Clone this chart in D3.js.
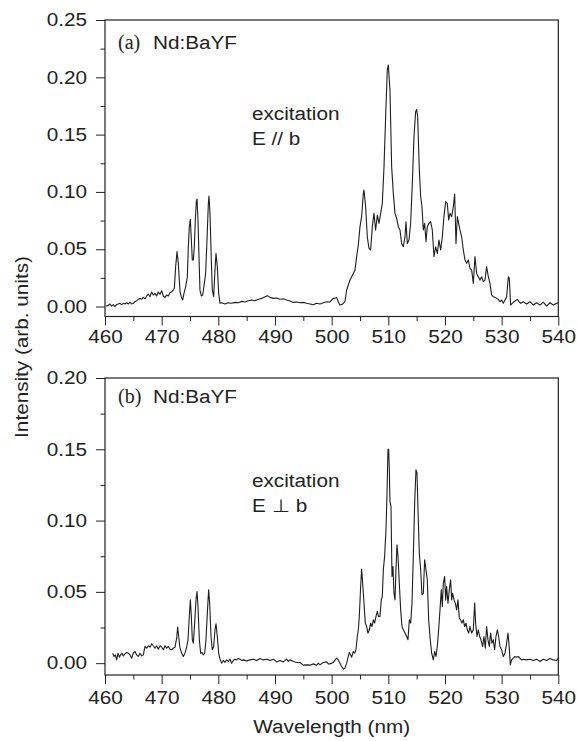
<!DOCTYPE html>
<html><head><meta charset="utf-8">
<script src="https://cdn.jsdelivr.net/npm/d3@7"></script>
<style>
html,body{margin:0;padding:0;background:#fff;}
svg{display:block;}
</style></head>
<body>
<script>
// ---------- data ----------
const topWl = [460.18,460.59,460.88,461.18,461.47,461.76,462.06,462.35,462.65,462.94,463.24,463.53,463.82,464.12,464.41,464.71,465.0,465.29,465.59,465.88,466.18,466.47,466.76,467.06,467.35,467.65,467.94,468.24,468.53,468.82,469.12,469.41,469.71,470.0,470.29,470.59,470.88,471.18,471.47,471.76,472.06,472.24,472.47,472.71,472.94,473.24,473.47,473.71,473.94,474.24,474.53,474.71,474.88,475.06,475.24,475.41,475.59,475.76,475.94,476.12,476.24,476.41,476.59,476.76,477.0,477.24,477.53,477.76,478.0,478.24,478.35,478.53,478.76,478.94,479.18,479.41,479.59,479.82,480.06,480.29,480.59,481.18,481.76,482.35,482.94,483.53,484.12,484.71,485.29,485.88,486.47,487.06,487.65,488.24,488.65,489.12,489.71,490.29,490.88,491.47,492.06,492.65,493.24,493.82,494.41,495.0,495.59,496.18,496.76,497.35,497.94,498.53,499.12,499.71,500.29,500.59,500.88,501.18,501.47,501.94,502.35,502.65,502.94,503.24,503.53,503.82,504.12,504.41,504.71,505.0,505.29,505.59,505.71,506.0,506.29,506.59,506.88,507.18,507.47,507.76,508.06,508.35,508.65,508.94,509.24,509.53,509.82,510.0,510.29,510.59,510.88,511.18,511.47,511.76,512.06,512.35,512.65,512.94,513.12,513.35,513.65,513.94,514.24,514.53,514.82,515.0,515.18,515.47,515.71,515.94,516.18,516.41,516.65,516.88,517.18,517.47,517.76,518.06,518.35,518.65,518.94,519.24,519.53,519.82,520.12,520.41,520.65,520.88,521.18,521.47,521.71,521.94,522.18,522.41,522.65,522.94,523.24,523.53,523.82,524.12,524.41,524.71,525.0,525.29,525.59,525.88,526.18,526.47,526.76,527.06,527.35,527.65,527.94,528.24,528.53,528.82,529.12,529.41,529.71,530.0,530.29,530.59,530.88,531.18,531.35,531.59,531.88,532.18,532.47,532.76,533.06,533.35,533.82,534.41,535.0,535.59,536.18,536.76,537.35,537.94,538.53,539.12,539.71,540.0];
const topInt = [0.0004,0.001,0.0022,0.0004,0.0016,-0.0001,0.0019,0.0022,0.0028,0.0016,0.0028,0.0022,0.0033,0.0022,0.0039,0.0022,0.0028,0.0042,0.0051,0.0063,0.0071,0.0063,0.008,0.0068,0.0092,0.0109,0.0086,0.0127,0.01,0.0115,0.0092,0.0127,0.0106,0.0138,0.0092,0.008,0.01,0.0092,0.0121,0.0129,0.0144,0.0159,0.0348,0.0479,0.0377,0.0129,0.0086,0.0057,0.0115,0.0173,0.026,0.0522,0.0697,0.0761,0.0581,0.0406,0.0406,0.0522,0.0755,0.0917,0.0938,0.0755,0.0435,0.0144,0.0092,0.01,0.0202,0.0289,0.0581,0.09,0.0964,0.0813,0.0406,0.0144,0.0086,0.0318,0.0464,0.0348,0.0115,0.0028,0.0033,0.0022,0.0033,0.0028,0.0036,0.0033,0.0045,0.0039,0.0051,0.0057,0.0051,0.0063,0.0071,0.0086,0.0095,0.008,0.0071,0.0074,0.0063,0.0068,0.0057,0.0048,0.0036,0.0039,0.0033,0.0036,0.0028,0.0022,0.0016,0.0028,0.0022,0.0033,0.0042,0.004,0.0071,0.0071,0.008,0.0042,0.0013,0.0022,0.0042,0.0144,0.0188,0.0231,0.026,0.0289,0.0318,0.0435,0.0537,0.0697,0.0784,0.0987,0.1017,0.0871,0.0609,0.0508,0.0493,0.0697,0.0813,0.0668,0.0798,0.0726,0.0813,0.09,0.122,0.1657,0.2064,0.2108,0.1889,0.122,0.0987,0.0813,0.077,0.0697,0.0668,0.0551,0.0522,0.0609,0.074,0.0551,0.058,0.0726,0.1075,0.1482,0.17,0.172,0.1657,0.1191,0.0958,0.0871,0.0668,0.0726,0.0566,0.0697,0.0726,0.074,0.0668,0.0435,0.0522,0.0464,0.058,0.0493,0.0609,0.0784,0.0915,0.09,0.0755,0.0813,0.0784,0.0871,0.0982,0.0551,0.0784,0.0726,0.0668,0.0609,0.0493,0.0406,0.0377,0.0406,0.0333,0.0318,0.0202,0.0435,0.0289,0.026,0.0231,0.026,0.0217,0.0231,0.0348,0.026,0.0202,0.01,0.0086,0.008,0.0071,0.0063,0.0042,0.0057,0.0028,0.0057,0.0086,0.026,0.0246,0.0013,0.0028,0.0042,0.0051,0.0063,0.0042,0.0028,0.0042,0.0022,0.0042,0.0013,0.0033,0.0013,0.0039,0.0004,0.0033,0.0013,0.0028,0.0033];

const botWl = [461.35,461.59,461.82,462.06,462.29,462.53,462.76,463.0,463.24,463.53,463.82,464.12,464.41,464.71,465.0,465.29,465.59,465.88,466.18,466.47,466.76,467.06,467.35,467.65,467.94,468.24,468.53,468.82,469.12,469.41,469.71,470.0,470.29,470.59,470.88,471.18,471.47,471.76,472.06,472.35,472.65,472.82,473.0,473.24,473.53,473.82,474.12,474.41,474.65,474.88,475.06,475.24,475.41,475.59,475.82,476.06,476.24,476.41,476.65,476.88,477.12,477.35,477.59,477.82,478.06,478.29,478.47,478.71,478.94,479.18,479.41,479.59,479.82,480.06,480.29,480.59,480.88,481.18,481.47,481.76,482.06,482.35,482.65,482.94,483.24,483.53,483.82,484.12,484.41,485.0,485.59,486.18,486.76,487.35,487.94,488.53,489.12,489.71,490.29,490.88,491.47,492.06,492.35,492.65,493.24,493.82,494.41,495.0,495.59,496.18,496.76,497.35,497.65,497.94,498.53,499.12,499.41,499.71,500.29,500.88,501.18,501.47,501.76,502.06,502.35,502.65,502.94,503.12,503.35,503.53,503.82,504.06,504.29,504.53,504.71,504.88,505.12,505.29,505.47,505.71,505.94,506.18,506.41,506.65,506.88,507.12,507.35,507.59,507.82,508.06,508.29,508.53,508.76,508.94,509.12,509.35,509.59,509.76,509.94,510.06,510.18,510.29,510.47,510.65,510.82,511.0,511.18,511.35,511.53,511.71,511.94,512.18,512.41,512.65,512.94,513.24,513.47,513.71,513.94,514.18,514.41,514.65,514.88,515.06,515.24,515.47,515.71,515.94,516.18,516.41,516.65,516.88,517.12,517.35,517.65,517.94,518.18,518.41,518.65,518.88,519.12,519.35,519.53,519.71,519.94,520.12,520.29,520.53,520.76,521.0,521.18,521.35,521.59,521.82,522.06,522.29,522.53,522.76,523.0,523.24,523.47,523.71,523.94,524.18,524.41,524.71,525.0,525.24,525.41,525.65,525.88,526.12,526.35,526.65,526.88,527.12,527.35,527.59,527.82,528.06,528.29,528.53,528.76,529.0,529.24,529.47,529.71,530.0,530.29,530.59,530.88,531.12,531.29,531.53,531.76,532.06,532.35,532.65,532.94,533.24,533.53,533.82,534.41,535.0,535.59,536.18,536.76,537.35,537.94,538.53,539.12,539.71,540.0];
const botInt = [0.007,0.0047,0.0058,0.0023,0.007,0.0042,0.0058,0.007,0.0051,0.0065,0.0075,0.007,0.0058,0.0035,0.007,0.0082,0.0058,0.0047,0.007,0.0051,0.0058,0.0117,0.0105,0.0122,0.0112,0.0136,0.0122,0.0105,0.0122,0.0098,0.0122,0.0112,0.0094,0.0122,0.0105,0.0117,0.0098,0.0094,0.0105,0.0112,0.0175,0.0253,0.0187,0.0105,0.007,0.0047,0.007,0.0112,0.0164,0.0327,0.0444,0.0327,0.0164,0.014,0.0281,0.0444,0.0503,0.0398,0.0164,0.007,0.0075,0.0058,0.007,0.0164,0.0351,0.0515,0.0421,0.0187,0.0094,0.0117,0.0234,0.0276,0.0187,0.007,0.003,0.0,0.0019,0.0005,0.0023,0.0012,0.0028,0.0,0.0019,0.0028,0.0023,0.0033,0.0028,0.0019,0.0023,0.0016,0.0023,0.0028,0.0019,0.0033,0.0023,0.0028,0.0019,0.0028,0.0009,0.0019,0.0009,0.0028,0.0012,0.0023,0.0012,0.0005,0.0005,-0.0014,-0.0012,-0.0014,-0.0005,-0.0014,0.0,-0.0012,0.0005,0.0009,-0.0005,-0.0005,0.0005,0.0035,0.0023,0.0,-0.0023,-0.0042,-0.0035,0.0,0.0047,0.0075,0.0058,0.0042,0.0082,0.007,0.0094,0.0187,0.0234,0.0327,0.0538,0.066,0.0562,0.0421,0.0281,0.0257,0.0211,0.0234,0.0281,0.0257,0.0304,0.0281,0.0327,0.0363,0.0327,0.0327,0.0444,0.0468,0.0655,0.0749,0.0936,0.117,0.1497,0.1501,0.1357,0.1135,0.1099,0.0608,0.0678,0.0491,0.0444,0.0655,0.0831,0.0749,0.0562,0.0374,0.0257,0.0234,0.0211,0.0187,0.0164,0.0304,0.0281,0.0421,0.0749,0.1123,0.1357,0.1333,0.1076,0.0772,0.0655,0.048,0.0491,0.0725,0.0655,0.0585,0.0304,0.0187,0.007,0.0023,0.0082,0.0047,0.0117,0.0234,0.0374,0.0515,0.0398,0.0562,0.0608,0.0444,0.0538,0.0421,0.0515,0.0585,0.0444,0.0491,0.0444,0.0421,0.0374,0.0444,0.0316,0.0304,0.0281,0.0304,0.0257,0.0281,0.0234,0.0211,0.0257,0.0211,0.0234,0.0421,0.0281,0.0187,0.0234,0.0187,0.0164,0.0117,0.0187,0.0105,0.0257,0.0164,0.0117,0.0211,0.014,0.0164,0.0094,0.0187,0.0234,0.0187,0.0117,0.0094,0.0047,0.007,0.014,0.0211,0.014,-0.0012,0.0023,0.0035,0.0047,0.0042,0.0047,0.0033,0.0023,0.0028,0.0023,0.0028,0.0019,0.0028,0.0012,0.0028,0.0019,0.0033,0.0023,0.0019,0.0033];

const xMajorTicks = [460,470,480,490,500,510,520,530,540];
const xMinorTicks = [465,475,485,495,505,515,525,535];
const topYMajor = [0.00,0.05,0.10,0.15,0.20,0.25];
const topYMinor = [0.025,0.075,0.125,0.175,0.225];
const botYMajor = [0.00,0.05,0.10,0.15,0.20];
const botYMinor = [0.025,0.075,0.125,0.175];
const panelLabels = ["Nd:BaYF","Nd:BaYF"];
const panelTags = ["(a)","(b)"];
const noteLine1 = ["excitation","excitation"];
const noteLine2 = ["E // b","E \u22A5 b"];

// ---------- drawing ----------
const W = 577, H = 741;
const SANS = "'Liberation Sans', Arial, Helvetica, sans-serif";
const SERIF = "'Liberation Serif', 'Times New Roman', serif";
const INK = "#222";
const svg = d3.select("body").append("svg").attr("width", W).attr("height", H);
const x = d3.scaleLinear().domain([460, 540]).range([105, 558.3]);

const panels = [
  {wl: topWl, val: topInt, dom: [-0.0087, 0.25], rng: [316.5, 20], maj: topYMajor, min: topYMinor,
   tagY: 49, noteY: 120, xPad: 5},
  {wl: botWl, val: botInt, dom: [-0.0083, 0.20], rng: [675, 378], maj: botYMajor, min: botYMinor,
   tagY: 403, noteY: 487, xPad: 7}
];

function sans(sel) {
  return sel.style("font-family", SANS).style("font-size", "18px").style("fill", INK);
}

panels.forEach((p, i) => {
  const y = d3.scaleLinear().domain(p.dom).range(p.rng);
  const g = svg.append("g");
  const fmt = d3.format(".2f");

  const xa = g.append("g").attr("transform", `translate(0,${p.rng[0]})`)
    .call(d3.axisBottom(x).tickValues(xMajorTicks).tickSize(9).tickPadding(p.xPad).tickFormat(d3.format("d")));
  const xm = g.append("g").attr("transform", `translate(0,${p.rng[0]})`)
    .call(d3.axisBottom(x).tickValues(xMinorTicks).tickSize(4.5).tickFormat(""));
  const ya = g.append("g").attr("transform", `translate(105,0)`)
    .call(d3.axisLeft(y).tickValues(p.maj).tickSize(9).tickPadding(9).tickFormat(fmt));
  const ym = g.append("g").attr("transform", `translate(105,0)`)
    .call(d3.axisLeft(y).tickValues(p.min).tickSize(4.5).tickFormat(""));
  [xa, xm, ya, ym].forEach(a => {
    a.select(".domain").remove();
    a.selectAll("line").attr("stroke", INK).attr("stroke-width", 1);
    sans(a.selectAll("text")).classed("stretch", true);
  });

  g.append("rect").attr("x", x(460)).attr("y", p.rng[1])
    .attr("width", x(540) - x(460)).attr("height", p.rng[0] - p.rng[1])
    .attr("fill", "none").attr("stroke", INK).attr("stroke-width", 1.2);

  const pts = p.wl.map((w, k) => [w, p.val[k]]);
  const line = d3.line().x(d => x(d[0])).y(d => y(d[1]));
  g.append("path").datum(pts).attr("d", line)
    .attr("fill", "none").attr("stroke", "#1e1e1e").attr("stroke-width", 1.1).attr("stroke-linejoin", "round");

  g.append("text").attr("x", 118).attr("y", p.tagY)
    .style("font-family", SERIF).style("font-size", "20px").style("fill", INK).text(panelTags[i]);
  sans(g.append("text").attr("x", 153).attr("y", p.tagY)).classed("stretch", true).text(panelLabels[i]);
  sans(g.append("text").attr("x", 252).attr("y", p.noteY)).classed("stretch", true).text(noteLine1[i]);
  sans(g.append("text").attr("x", 252).attr("y", p.noteY + 25)).classed("stretch", true).text(noteLine2[i]);
});

sans(svg.append("text").attr("x", 331.7).attr("y", 733).attr("text-anchor", "middle"))
  .classed("stretch", true).text("Wavelength (nm)");
sans(svg.append("text").attr("transform", "translate(28,347) rotate(-90)").attr("text-anchor", "middle"))
  .classed("stretch", true).text("Intensity (arb. units)");

// the reference lettering is horizontally widened Helvetica: widen each label by 15%
svg.selectAll("text.stretch").each(function () {
  const L = this.getComputedTextLength();
  if (L > 0) d3.select(this).attr("textLength", (L * 1.15).toFixed(1)).attr("lengthAdjust", "spacingAndGlyphs");
});
</script>
</body></html>
